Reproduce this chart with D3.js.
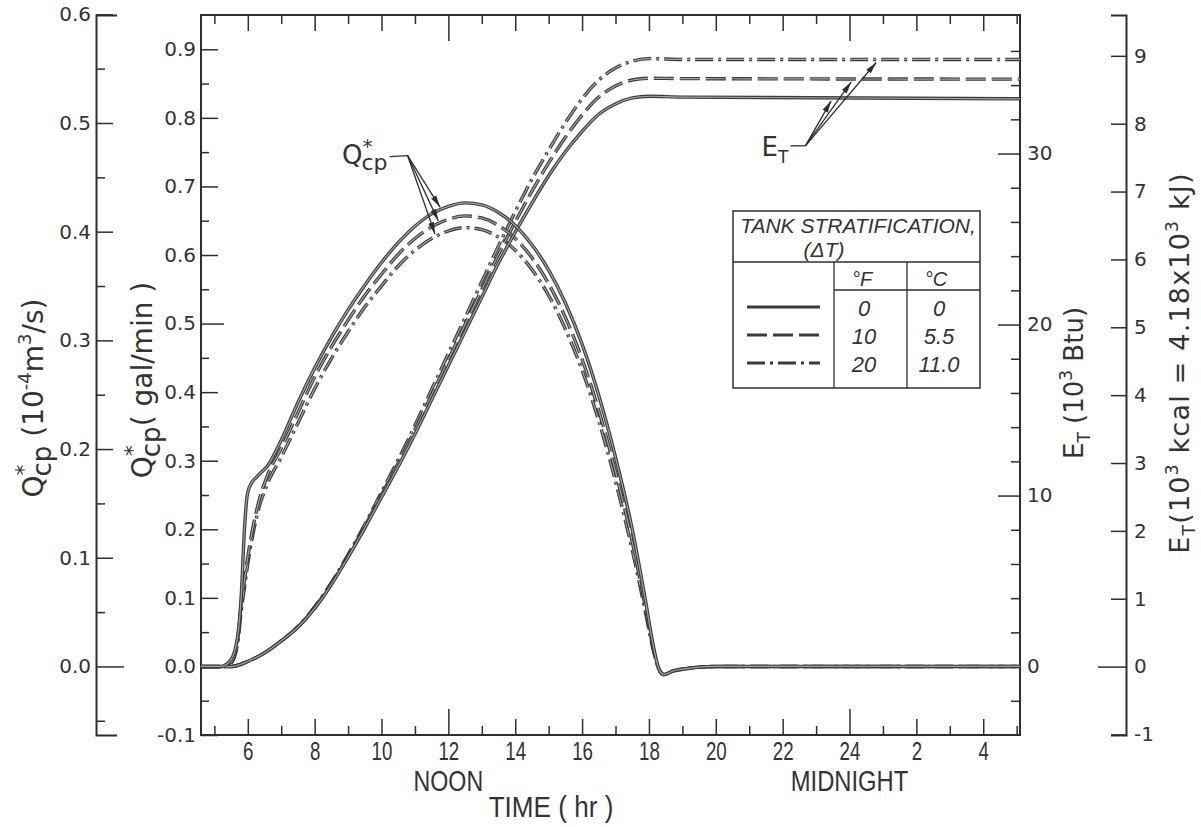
<!DOCTYPE html>
<html>
<head>
<meta charset="utf-8">
<script src="https://cdn.jsdelivr.net/npm/d3@7"></script>
<style>
  html, body { margin: 0; padding: 0; background: #fff; }
  svg { display: block; }
</style>
</head>
<body>
<svg id="chart" width="1201" height="827"></svg>
<script>
// ---------------------------------------------------------------
// Collector flow rate Q*cp and cumulative energy E_T over one day
// for three levels of tank stratification (ΔT = 0, 10, 20 °F).
// Time is in hours; values past 24 wrap into the next morning.
// ---------------------------------------------------------------

// Q*cp (gal/min)
const qHours   = [4.6, 5.2, 5.5, 5.7, 5.8, 5.9, 5.97, 6.05, 6.3, 6.6, 7, 7.5, 8, 8.5, 9, 9.5, 10, 10.5, 11, 11.5, 12, 12.5, 13, 13.5, 14, 14.5, 15, 15.5, 16, 16.5, 17, 17.5, 17.9, 18.1, 18.3, 18.45, 18.7, 19, 19.5, 20, 22, 24, 26, 29.1];
const qSolid   = [0, 0, 0.01, 0.045, 0.1, 0.2, 0.245, 0.262, 0.278, 0.293, 0.33, 0.385, 0.435, 0.48, 0.52, 0.556, 0.589, 0.618, 0.642, 0.66, 0.671, 0.676, 0.673, 0.662, 0.643, 0.615, 0.578, 0.53, 0.47, 0.395, 0.305, 0.2, 0.095, 0.038, -0.004, -0.012, -0.007, -0.004, -0.001, 0, 0, 0, 0, 0];
const qDash    = [0, 0, 0.006, 0.04, 0.09, 0.125, 0.15, 0.175, 0.235, 0.28, 0.318, 0.37, 0.422, 0.466, 0.505, 0.541, 0.572, 0.601, 0.624, 0.641, 0.652, 0.657, 0.654, 0.643, 0.624, 0.596, 0.558, 0.509, 0.448, 0.373, 0.284, 0.182, 0.085, 0.033, -0.004, -0.012, -0.007, -0.004, -0.001, 0, 0, 0, 0, 0];
const qDashDot = [0, 0, 0.005, 0.035, 0.08, 0.115, 0.14, 0.165, 0.225, 0.268, 0.305, 0.355, 0.405, 0.449, 0.488, 0.524, 0.555, 0.584, 0.607, 0.624, 0.635, 0.64, 0.637, 0.626, 0.607, 0.579, 0.541, 0.492, 0.432, 0.358, 0.27, 0.17, 0.078, 0.03, -0.004, -0.012, -0.007, -0.004, -0.001, 0, 0, 0, 0, 0];

// E_T (10^3 Btu)
const eHours   = [4.6, 5.5, 6, 6.5, 7, 7.5, 8, 8.5, 9, 9.5, 10, 10.5, 11, 11.5, 12, 12.5, 13, 13.5, 14, 14.5, 15, 15.5, 16, 16.5, 17, 17.5, 18, 19, 29.1];
const eSolid   = [0, 0, 0.3, 0.8, 1.5, 2.3, 3.4, 4.8, 6.4, 8.1, 9.9, 11.7, 13.6, 15.6, 17.6, 19.6, 21.6, 23.6, 25.4, 27.1, 28.7, 30.1, 31.3, 32.3, 32.9, 33.25, 33.35, 33.3, 33.2];
const eDash    = [0, 0, 0.3, 0.8, 1.5, 2.32, 3.45, 4.85, 6.45, 8.2, 10.05, 11.9, 13.85, 15.9, 17.95, 20.0, 22.05, 24.1, 26.0, 27.8, 29.45, 30.95, 32.25, 33.3, 33.95, 34.3, 34.4, 34.38, 34.35];
const eDashDot = [0, 0, 0.3, 0.8, 1.5, 2.35, 3.5, 4.9, 6.55, 8.3, 10.2, 12.1, 14.1, 16.2, 18.3, 20.4, 22.5, 24.6, 26.6, 28.5, 30.2, 31.8, 33.2, 34.3, 35.0, 35.4, 35.55, 35.5, 35.5];

// axis ticks and labels
const timeTicks      = [6, 8, 10, 12, 14, 16, 18, 20, 22, 24, 26, 28];
const timeTickLabels = ["6", "8", "10", "12", "14", "16", "18", "20", "22", "24", "2", "4"];
const gpmTicks  = [-0.1, 0, 0.1, 0.2, 0.3, 0.4, 0.5, 0.6, 0.7, 0.8, 0.9];
const siTicks   = [0, 0.1, 0.2, 0.3, 0.4, 0.5, 0.6];
const btuTicks  = [0, 10, 20, 30];
const kcalTicks = [-1, 0, 1, 2, 3, 4, 5, 6, 7, 8, 9];

// legend table
const legendF = ["0", "10", "20"];
const legendC = ["0", "5.5", "11.0"];

// annotation anchors (hours on each curve the arrows point at)
const qArrowHours = [11.75, 11.7, 11.6];
const eArrowHours = [23.45, 24.05, 24.8];

// ---------------------------------------------------------------
const INK = "#2e2e2e";
const TXT = "#333";
const NUM_FONT = "'DejaVu Sans', sans-serif";
const LET_FONT = "'Liberation Sans', Arial, sans-serif";

const GPM_TO_SI = 0.6309;    // 1 gal/min = 0.6309 x 10^-4 m^3/s
const BTU_PER_KCAL = 3.968;  // 1 kcal = 3.968 Btu

const svg = d3.select("#chart");

const x   = d3.scaleLinear().domain([4.6, 29.1]).range([201, 1020]);
const yQ  = d3.scaleLinear().domain([-0.1, 0.95]).range([735, 15]);
const ySI = d3.scaleLinear().domain(yQ.domain().map(v => v * GPM_TO_SI)).range([735, 15]);
const yE  = d3.scaleLinear().domain([-4, 38.1]).range([735, 15]);
const yK  = d3.scaleLinear().domain(yE.domain().map(v => v / BTU_PER_KCAL)).range([735, 15]);

const [X0, X1] = x.range();
const [Y1, Y0] = yQ.range();   // Y0 = top, Y1 = bottom

const styles = [
  { name: "solid",   dash: null },
  { name: "dash",    dash: "20,6" },
  { name: "dashdot", dash: "18,5,3,5" }
];

// ---------- plot frame ----------
svg.append("rect")
  .attr("x", X0).attr("y", Y0)
  .attr("width", X1 - X0).attr("height", Y1 - Y0)
  .attr("fill", "none").attr("stroke", INK).attr("stroke-width", 2);

function styleAxis(g, fs) {
  g.select(".domain").attr("stroke", INK).attr("stroke-width", 2);
  g.selectAll(".tick line").attr("stroke", INK).attr("stroke-width", 1.5);
  g.selectAll(".tick text").attr("fill", TXT).attr("font-family", NUM_FONT).attr("font-size", fs);
}

// ---------- time axes (bottom with labels, top ticks only) ----------
const allHours = d3.range(5, 30);
const tickLen = h => (h === 12 || h === 24) ? 26 : (h % 2 === 0 ? 16 : 9);
const timeLabel = h => { const i = timeTicks.indexOf(h); return i < 0 ? "" : timeTickLabels[i]; };

const gB = svg.append("g").attr("transform", `translate(0,${Y1})`)
  .call(d3.axisBottom(x).tickValues(allHours).tickSize(-16).tickSizeOuter(0).tickPadding(7).tickFormat(timeLabel));
gB.select(".domain").remove();
gB.selectAll(".tick line").attr("y2", d => -tickLen(d));
styleAxis(gB, 26);
gB.selectAll(".tick text")
  .attr("font-family", LET_FONT)
  .attr("transform", "scale(0.72,1)");

const gT = svg.append("g").attr("transform", `translate(0,${Y0})`)
  .call(d3.axisTop(x).tickValues(allHours).tickSize(-16).tickSizeOuter(0).tickFormat(""));
gT.select(".domain").remove();
gT.selectAll(".tick line").attr("y2", d => tickLen(d));
styleAxis(gT, 0);

// ---------- main left axis: gal/min ----------
const gL = svg.append("g").attr("transform", `translate(${X0},0)`)
  .call(d3.axisLeft(yQ).tickValues(gpmTicks).tickSize(-17).tickSizeOuter(0).tickPadding(5).tickFormat(d => d.toFixed(1)));
gL.select(".domain").remove();
gL.selectAll(".tick line").attr("x2", d => (Math.abs(d - 0.5) < 1e-9) ? 23 : 17);
styleAxis(gL, 20);
const gLm = svg.append("g").attr("transform", `translate(${X0},0)`)
  .call(d3.axisLeft(yQ).tickValues(d3.range(-0.05, 0.9, 0.1)).tickSize(-8).tickSizeOuter(0).tickFormat(""));
gLm.select(".domain").remove();
styleAxis(gLm, 0);

// ---------- outer left axis: 10^-4 m^3/s ----------
const SIX = 96;
const gS = svg.append("g").attr("transform", `translate(${SIX},0)`)
  .call(d3.axisLeft(ySI).tickValues(siTicks).tickSize(-17).tickSizeOuter(-21).tickPadding(5).tickFormat(d => d.toFixed(1)));
gS.selectAll(".tick line").attr("x2", d => d === 0 ? 28 : 17);
styleAxis(gS, 20);
const gSm = svg.append("g").attr("transform", `translate(${SIX},0)`)
  .call(d3.axisLeft(ySI).tickValues(d3.range(-0.05, 0.6, 0.1)).tickSize(-9).tickSizeOuter(0).tickFormat(""));
gSm.select(".domain").remove();
styleAxis(gSm, 0);

// ---------- right frame axis: 10^3 Btu ----------
const gR = svg.append("g").attr("transform", `translate(${X1},0)`)
  .call(d3.axisRight(yE).tickValues(btuTicks).tickSize(-22).tickSizeOuter(0).tickPadding(7));
gR.select(".domain").remove();
styleAxis(gR, 20);
const btuMinor = d3.range(-2, 37, 2).filter(v => v % 10 !== 0);
const gRm = svg.append("g").attr("transform", `translate(${X1},0)`)
  .call(d3.axisRight(yE).tickValues(btuMinor).tickSize(-9).tickSizeOuter(0).tickFormat(""));
gRm.select(".domain").remove();
styleAxis(gRm, 0);

// ---------- outer right axis: 10^3 kcal ----------
const KX = 1126;
const gK = svg.append("g").attr("transform", `translate(${KX},0)`)
  .call(d3.axisRight(yK).tickValues(kcalTicks).tickSize(-15).tickSizeOuter(-15).tickPadding(8).tickFormat(d => String(d)));
gK.selectAll(".tick line").attr("x2", d => d === 0 ? -28 : -15);
styleAxis(gK, 20);

// ---------- curves ----------
const lineQ = d3.line().x(d => x(d[0])).y(d => yQ(d[1])).curve(d3.curveMonotoneX);
const lineE = d3.line().x(d => x(d[0])).y(d => yE(d[1])).curve(d3.curveMonotoneX);

const qSeries = [qSolid, qDash, qDashDot];
const eSeries = [eSolid, eDash, eDashDot];

function drawCurve(path, dash) {
  svg.append("path").attr("d", path).attr("fill", "none")
    .attr("stroke", "#3a3a3a").attr("stroke-width", 3.4)
    .attr("stroke-dasharray", dash);
  svg.append("path").attr("d", path).attr("fill", "none")
    .attr("stroke", "#a4a4a4").attr("stroke-width", 1.2)
    .attr("stroke-dasharray", dash);
}

[2, 1, 0].forEach(i => {
  drawCurve(lineE(eHours.map((h, k) => [h, eSeries[i][k]])), styles[i].dash);
  drawCurve(lineQ(qHours.map((h, k) => [h, qSeries[i][k]])), styles[i].dash);
});

// ---------- annotations ----------
const interp = (hs, vs, h) => {
  const k = d3.bisectRight(hs, h) - 1;
  const t = (h - hs[k]) / (hs[k + 1] - hs[k]);
  return vs[k] + t * (vs[k + 1] - vs[k]);
};

svg.append("defs").append("marker")
  .attr("id", "arr").attr("viewBox", "0 -4 12 8")
  .attr("refX", 12).attr("refY", 0)
  .attr("markerWidth", 12).attr("markerHeight", 8)
  .attr("markerUnits", "userSpaceOnUse").attr("orient", "auto")
  .append("path").attr("d", "M0,-3L12,0L0,3Z").attr("fill", INK);

function richText(sel, parts) {
  let prev = 0;
  parts.forEach(p => {
    const s = p.shift || 0;
    sel.append("tspan")
      .attr("font-size", p.fs)
      .attr("dy", prev - s)
      .attr("dx", p.dx || 0)
      .text(p.t);
    prev = s;
  });
}

// Q*cp callout
const qOrigin = [x(10.78), yQ(0.745)];
svg.append("line")
  .attr("x1", qOrigin[0] - 18).attr("y1", qOrigin[1] + 1)
  .attr("x2", qOrigin[0]).attr("y2", qOrigin[1])
  .attr("stroke", INK).attr("stroke-width", 1.3);
qArrowHours.forEach((h, i) => {
  svg.append("line")
    .attr("x1", qOrigin[0]).attr("y1", qOrigin[1])
    .attr("x2", x(h)).attr("y2", yQ(interp(qHours, qSeries[i], h)) - 3)
    .attr("stroke", INK).attr("stroke-width", 1.3)
    .attr("marker-end", "url(#arr)");
});
const qLab = svg.append("text")
  .attr("x", qOrigin[0] - 20).attr("y", qOrigin[1] + 8)
  .attr("text-anchor", "end").attr("fill", TXT).attr("font-family", NUM_FONT);
richText(qLab, [
  { t: "Q", fs: 26 },
  { t: "*", fs: 20, shift: 11 },
  { t: "cp", fs: 22, shift: -6, dx: -11 }
]);

// E_T callout
const eOrigin = [x(22.68), yE(30.45)];
svg.append("line")
  .attr("x1", eOrigin[0] - 15).attr("y1", eOrigin[1])
  .attr("x2", eOrigin[0]).attr("y2", eOrigin[1])
  .attr("stroke", INK).attr("stroke-width", 1.3);
eArrowHours.forEach((h, i) => {
  svg.append("line")
    .attr("x1", eOrigin[0]).attr("y1", eOrigin[1])
    .attr("x2", x(h)).attr("y2", yE(interp(eHours, eSeries[i], h)) + 3)
    .attr("stroke", INK).attr("stroke-width", 1.3)
    .attr("marker-end", "url(#arr)");
});
const eLab = svg.append("text")
  .attr("x", eOrigin[0] - 17).attr("y", eOrigin[1] + 10)
  .attr("text-anchor", "end").attr("fill", TXT).attr("font-family", NUM_FONT);
richText(eLab, [
  { t: "E", fs: 26 },
  { t: "T", fs: 17, shift: -7 }
]);

// ---------- axis titles ----------
function rotTitle(cx, cy, parts, spacing) {
  const t = svg.append("text")
    .attr("transform", `translate(${cx},${cy}) rotate(-90)`)
    .attr("text-anchor", "middle").attr("fill", TXT)
    .attr("font-family", NUM_FONT)
    .attr("letter-spacing", spacing || 0);
  richText(t, parts);
}

rotTitle(43, 398, [
  { t: "Q", fs: 28 },
  { t: "*", fs: 22, shift: 12 },
  { t: "cp", fs: 26, shift: -8, dx: -12 },
  { t: " (10", fs: 28 },
  { t: "-4", fs: 18, shift: 12 },
  { t: "m", fs: 28 },
  { t: "3", fs: 18, shift: 12 },
  { t: "/s)", fs: 28 }
], 0);

rotTitle(152, 380, [
  { t: "Q", fs: 28 },
  { t: "*", fs: 22, shift: 12 },
  { t: "cp", fs: 26, shift: -8, dx: -12 },
  { t: "( gal/min )", fs: 28 }
], 0);

rotTitle(1083, 383, [
  { t: "E", fs: 26 },
  { t: "T", fs: 17, shift: -7 },
  { t: " (10", fs: 26 },
  { t: "3", fs: 17, shift: 11 },
  { t: " Btu)", fs: 26 }
], 0);

rotTitle(1189, 363, [
  { t: "E", fs: 27 },
  { t: "T", fs: 17, shift: -6 },
  { t: "(10", fs: 27 },
  { t: "3", fs: 17, shift: 11 },
  { t: " kcal = 4.18x10", fs: 27 },
  { t: "3", fs: 17, shift: 11 },
  { t: " kJ)", fs: 27 }
], 1.2);

// time axis captions
function caption(cx, cy, txt, fs, sx) {
  svg.append("text")
    .attr("transform", `translate(${cx},${cy}) scale(${sx},1)`)
    .attr("text-anchor", "middle").attr("fill", TXT)
    .attr("font-family", LET_FONT).attr("font-size", fs)
    .text(txt);
}
caption(x(12), 791, "NOON", 29, 0.8);
caption(x(24), 791, "MIDNIGHT", 29, 0.82);
caption(551, 817, "TIME ( hr )", 29, 0.9);

// ---------- legend table ----------
const L = { x0: 733, y0: 211, x1: 980, y1: 388, c1: 834, c2: 907, hBot: 262, sBot: 290 };
const rowY = [307, 335, 363];
const lg = svg.append("g");
lg.append("rect")
  .attr("x", L.x0).attr("y", L.y0).attr("width", L.x1 - L.x0).attr("height", L.y1 - L.y0)
  .attr("fill", "#fff").attr("stroke", INK).attr("stroke-width", 1.5);
[[L.x0, L.hBot, L.x1, L.hBot], [L.c1, L.sBot, L.x1, L.sBot],
 [L.c1, L.hBot, L.c1, L.y1], [L.c2, L.hBot, L.c2, L.y1]].forEach(s => {
  lg.append("line").attr("x1", s[0]).attr("y1", s[1]).attr("x2", s[2]).attr("y2", s[3])
    .attr("stroke", INK).attr("stroke-width", 1.3);
});
const ltxt = (xx, yy, t, fs) => lg.append("text")
  .attr("x", xx).attr("y", yy).attr("text-anchor", "middle")
  .attr("font-family", LET_FONT).attr("font-style", "italic")
  .attr("font-size", fs).attr("fill", TXT).text(t);
ltxt(858, 233, "TANK STRATIFICATION,", 21);
ltxt(824, 257, "(ΔT)", 21);
ltxt(862, 286, "°F", 20);
ltxt(936, 286, "°C", 20);
styles.forEach((s, i) => {
  lg.append("line")
    .attr("x1", 747).attr("x2", 820).attr("y1", rowY[i]).attr("y2", rowY[i])
    .attr("stroke", "#3a3a3a").attr("stroke-width", 3)
    .attr("stroke-dasharray", s.dash);
  ltxt(864, rowY[i] + 9, legendF[i], 22);
  ltxt(939, rowY[i] + 9, legendC[i], 22);
});
</script>
</body>
</html>
